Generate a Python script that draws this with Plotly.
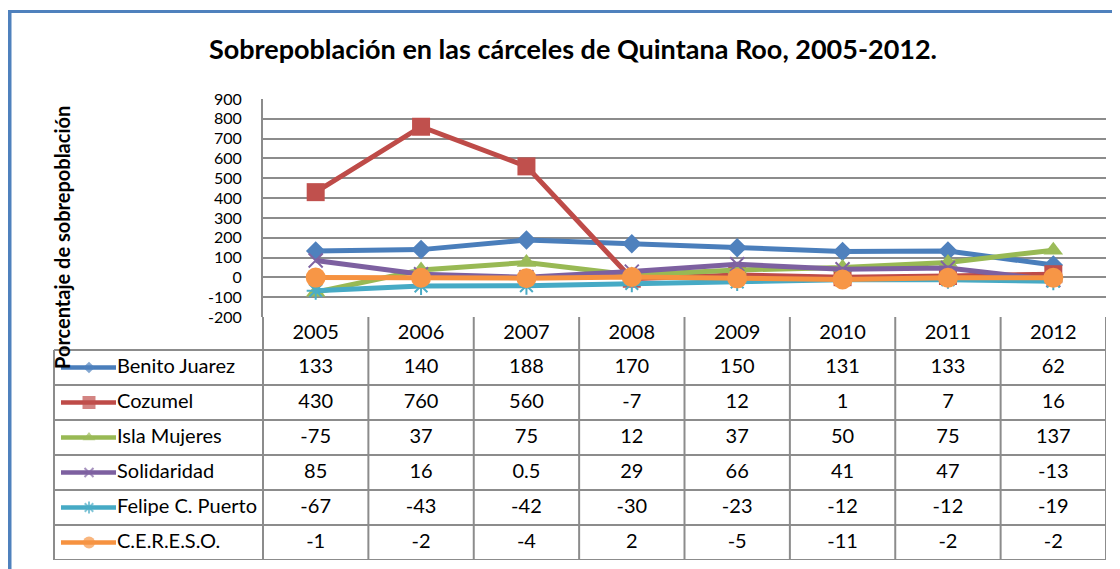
import plotly.graph_objects as go

# ---------------- data ----------------
years = ["2005", "2006", "2007", "2008", "2009", "2010", "2011", "2012"]
series_names = ["Benito Juarez", "Cozumel", "Isla Mujeres", "Solidaridad",
                "Felipe C. Puerto", "C.E.R.E.S.O."]
benito_juarez = [133, 140, 188, 170, 150, 131, 133, 62]
cozumel = [430, 760, 560, -7, 12, 1, 7, 16]
isla_mujeres = [-75, 37, 75, 12, 37, 50, 75, 137]
solidaridad = [85, 16, 0.5, 29, 66, 41, 47, -13]
felipe_c_puerto = [-67, -43, -42, -30, -23, -12, -12, -19]
cereso = [-1, -2, -4, 2, -5, -11, -2, -2]
series_values = [benito_juarez, cozumel, isla_mujeres, solidaridad,
                 felipe_c_puerto, cereso]
y_ticks = list(range(-200, 1000, 100))

title_text = "Sobrepoblación en las cárceles de Quintana Roo, 2005-2012."
y_title = "Porcentaje de sobrepoblación"

# ---------------- styles ----------------
line_colors = ["#4A7EBB", "#BE4B48", "#98B954", "#7D60A0", "#46AAC5", "#F69240"]
fill_colors = ["#4F81BD", "#C0504D", "#9BBB59", "#8064A2", "#4BACC6", "#F79646"]
symbols = ["diamond", "square", "triangle-up", "x-thin-open", "asterisk-open", "circle"]
sizes_main = [15, 18, 17, 14, 15, 20]
sizes_leg = [9, 13, 11, 9, 10, 12]
FONT = "Lato"
GRID = "#8C8C8C"
TXT = 20
TICK_TXT = 16

OFF = 8                      # browser body margin
W, H = 1120 - OFF, 569 - OFF
PLOT_L, PLOT_R, PLOT_T, PLOT_B = 263, 1106, 99, 317
TABLE_L, HEADER_B, ROW_H = 54, 350, 35
nrows = len(series_names)
TABLE_B = HEADER_B + ROW_H * nrows
ncol = len(years)
colw = (PLOT_R - PLOT_L) / ncol


def fx(px):
    return (px - OFF) / W


def fy(py):
    return 1 - (py - OFF) / H


def x2(px):
    return (px - PLOT_L) / colw - 0.5


def fmt(v):
    return f"{v:g}"


fig = go.Figure()

# main lines
for name, vals, lc, fc, sym, sz in zip(series_names, series_values, line_colors,
                                        fill_colors, symbols, sizes_main):
    open_sym = sym.endswith("open")
    fig.add_trace(go.Scatter(
        x=years, y=vals, name=name, mode="lines+markers",
        line=dict(color=lc, width=5),
        marker=dict(symbol=sym, size=sz, color=fc,
                    line=dict(color=fc if open_sym else lc, width=2 if open_sym else 0)),
        showlegend=False, cliponaxis=False,
    ))

hdr_top = -(HEADER_B - PLOT_B) / ROW_H

# table: header years
fig.add_trace(go.Scatter(
    x=list(range(ncol)), y=[hdr_top / 2] * ncol, text=years,
    mode="text", textfont=dict(family=FONT, size=TXT, color="black"),
    xaxis="x2", yaxis="y2", showlegend=False, hoverinfo="skip", cliponaxis=False,
))

# table rows
leg_x0, leg_mid, leg_x1, leg_txt = x2(61), x2(89), x2(116), x2(117)
for i, (name, vals, lc, fc, sym, sz) in enumerate(zip(series_names, series_values, line_colors,
                                                       fill_colors, symbols, sizes_leg)):
    fig.add_trace(go.Scatter(
        x=list(range(ncol)), y=[i + 0.5] * ncol, text=[fmt(v) for v in vals],
        mode="text", textfont=dict(family=FONT, size=TXT, color="black"),
        xaxis="x2", yaxis="y2", showlegend=False, hoverinfo="skip", cliponaxis=False,
    ))
    open_sym = sym.endswith("open")
    fig.add_trace(go.Scatter(
        x=[leg_x0, leg_mid, leg_x1], y=[i + 0.5] * 3, mode="lines+markers",
        line=dict(color=lc, width=4.5),
        marker=dict(symbol=sym, size=[0, sz, 0], color=fc,
                    line=dict(color=fc if open_sym else lc, width=2 if open_sym else 0)),
        xaxis="x2", yaxis="y2", showlegend=False, hoverinfo="skip", cliponaxis=False,
    ))
    fig.add_trace(go.Scatter(
        x=[leg_txt], y=[i + 0.5], text=[name], mode="text", textposition="middle right",
        textfont=dict(family=FONT, size=TXT, color="black"),
        xaxis="x2", yaxis="y2", showlegend=False, hoverinfo="skip", cliponaxis=False,
    ))

# table borders
shapes = []
leg_left = x2(TABLE_L)
for r in range(nrows + 1):
    shapes.append(dict(type="line", xref="x2", yref="y2", x0=leg_left, x1=ncol - 0.5,
                       y0=r, y1=r, line=dict(color=GRID, width=2)))
for c in range(ncol + 1):
    shapes.append(dict(type="line", xref="x2", yref="y2", x0=c - 0.5, x1=c - 0.5,
                       y0=hdr_top, y1=nrows, line=dict(color=GRID, width=2)))
shapes.append(dict(type="line", xref="x2", yref="y2", x0=leg_left, x1=leg_left,
                   y0=0, y1=nrows, line=dict(color=GRID, width=2)))
# outer blue frame
shapes.append(dict(type="line", xref="paper", yref="paper", x0=fx(9), x1=fx(9),
                   y0=fy(10), y1=fy(H + 20), line=dict(color="#4F81BD", width=5)))
shapes.append(dict(type="line", xref="paper", yref="paper", x0=fx(6), x1=fx(W + 20),
                   y0=fy(11.5), y1=fy(11.5), line=dict(color="#4F81BD", width=3)))

fig.update_layout(
    template="none",
    width=W, height=H, autosize=False,
    margin=dict(l=0, r=0, t=0, b=0, pad=0, autoexpand=False),
    paper_bgcolor="white", plot_bgcolor="white",
    font=dict(family=FONT, color="black"),
    title=dict(text="<b>" + title_text + "</b>", x=fx(573), xanchor="center",
               xref="paper", y=fy(50), yanchor="middle", yref="paper",
               font=dict(family=FONT, size=27, color="black")),
    xaxis=dict(domain=[fx(PLOT_L), fx(PLOT_R)], type="category", range=[-0.5, ncol - 0.5],
               showticklabels=False, showgrid=False, zeroline=False, showline=False,
               automargin=False),
    yaxis=dict(domain=[fy(PLOT_B), fy(PLOT_T)], range=[-200, 900], tickvals=y_ticks,
               ticktext=[str(t) for t in y_ticks],
               showgrid=True, gridcolor=GRID, gridwidth=2, zeroline=False,
               showline=True, linecolor=GRID, linewidth=2, ticks="",
               ticklabelstandoff=16, automargin=False,
               tickfont=dict(family=FONT, size=TICK_TXT, color="black")),
    xaxis2=dict(domain=[fx(TABLE_L - 4), fx(PLOT_R)], range=[x2(TABLE_L - 4), ncol - 0.5],
                visible=False, anchor="y2", automargin=False),
    yaxis2=dict(domain=[fy(TABLE_B), fy(PLOT_B)], range=[nrows, hdr_top], visible=False,
                anchor="x2", automargin=False),
    shapes=shapes,
    annotations=[dict(text="<b>" + y_title + "</b>", xref="paper", yref="paper",
                      x=fx(62), y=fy(238), textangle=-90, showarrow=False,
                      xanchor="center", yanchor="middle",
                      font=dict(family=FONT, size=20, color="black"))],
)

fig.write_html("out.html")
